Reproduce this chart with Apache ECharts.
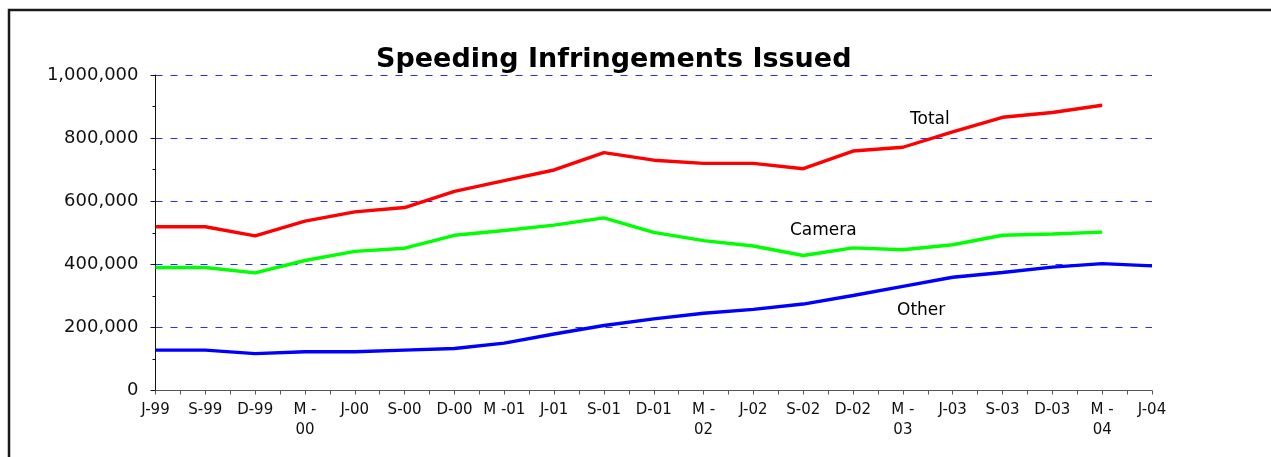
<!DOCTYPE html>
<html>
<head>
<meta charset="utf-8">
<script src="https://cdn.jsdelivr.net/npm/echarts@6/dist/echarts.min.js"></script>
<style>
html, body { margin: 0; padding: 0; background: #fff; }
#dataView { width: 1271px; height: 457px; }
</style>
</head>
<body>
<div id="dataView"></div>
<script>
// tick labels along the bottom (as printed, some wrap onto 2 lines)
var tickLabels = ['J-99', 'S-99', 'D-99', 'M -\n00', 'J-00', 'S-00', 'D-00', 'M -01', 'J-01', 'S-01',
	'D-01', 'M -\n02', 'J-02', 'S-02', 'D-02', 'M -\n03', 'J-03', 'S-03', 'D-03', 'M -\n04', 'J-04'];

// infringements per quarter
var totalValues = [519000, 519000, 490000, 537000, 566000, 580000, 631000, 665000, 699000, 754000,
	730000, 720000, 720000, 703000, 759000, 771000, 820000, 866000, 881000, 904000];
var cameraValues = [390000, 390000, 373000, 412000, 441000, 451000, 492000, 507000, 524000, 547000,
	501000, 475000, 458000, 428000, 452000, 446000, 462000, 492000, 496000, 502000];
var otherValues = [128000, 128000, 117000, 123000, 123000, 128000, 133000, 150000, 179000, 206000,
	227000, 245000, 257000, 274000, 301000, 330000, 359000, 374000, 391000, 402000, 395000];

function toPoints(arr) {
	return arr.map(function (v, i) { return [i, v]; });
}

var dataViewcharts = echarts.init(document.getElementById('dataView'));
var dataViewoption = {
	animation: false,
	backgroundColor: '#ffffff',
	title: {
		text: 'Speeding Infringements Issued',
		left: 371,
		top: 41,
		textStyle: {
			fontFamily: 'DejaVu Sans',
			fontWeight: 'bold',
			fontSize: 27,
			color: '#000'
		}
	},
	grid: {
		left: 155.5,
		right: 119,
		top: 75,
		bottom: 66.5
	},
	xAxis: {
		type: 'value',
		min: 0,
		max: tickLabels.length - 1,
		interval: 1,
		axisLine: { show: true, onZero: false, lineStyle: { color: '#555', width: 1 } },
		axisTick: { show: true, length: 4, lineStyle: { color: '#555' } },
		minorTick: { show: true, splitNumber: 2, length: 4, lineStyle: { color: '#555' } },
		splitLine: { show: false },
		axisLabel: {
			margin: 10,
			fontFamily: 'DejaVu Sans',
			fontSize: 15,
			lineHeight: 20,
			color: '#111',
			formatter: function (v) {
				return tickLabels[Math.round(v)] || '';
			}
		}
	},
	yAxis: {
		type: 'value',
		min: 0,
		max: 1000000,
		interval: 200000,
		axisLine: { show: true, lineStyle: { color: '#111', width: 1 } },
		axisTick: { show: true, length: 5, lineStyle: { color: '#111' } },
		minorTick: { show: true, splitNumber: 2, length: 3, lineStyle: { color: '#111' } },
		splitLine: { show: true, lineStyle: { color: '#2b2bff', width: 1, type: [7, 8] } },
		axisLabel: {
			margin: 17,
			fontFamily: 'DejaVu Sans',
			fontSize: 18,
			color: '#111',
			formatter: function (v) {
				return v.toString().replace(/\B(?=(\d{3})+(?!\d))/g, ',');
			}
		}
	},
	graphic: [
		{
			type: 'rect',
			shape: { x: 9, y: 10, width: 1400, height: 600 },
			style: { fill: null, stroke: '#1a1a1a', lineWidth: 2.5 },
			silent: true
		},
		{ type: 'text', left: 910, top: 111, style: { text: 'Total', font: '17px "DejaVu Sans"', fill: '#000' } },
		{ type: 'text', left: 790, top: 222, style: { text: 'Camera', font: '17px "DejaVu Sans"', fill: '#000' } },
		{ type: 'text', left: 897, top: 302, style: { text: 'Other', font: '17px "DejaVu Sans"', fill: '#000' } }
	],
	series: [
		{
			name: 'Total',
			type: 'line',
			data: toPoints(totalValues),
			symbol: 'none',
			lineStyle: { color: '#ff0000', width: 3.4 },
			z: 3
		},
		{
			name: 'Camera',
			type: 'line',
			data: toPoints(cameraValues),
			symbol: 'none',
			lineStyle: { color: '#00ff00', width: 3.4 },
			z: 3
		},
		{
			name: 'Other',
			type: 'line',
			data: toPoints(otherValues),
			symbol: 'none',
			lineStyle: { color: '#0000ff', width: 3.4 },
			z: 3
		}
	]
};
dataViewcharts.setOption(dataViewoption);
</script>
</body>
</html>
